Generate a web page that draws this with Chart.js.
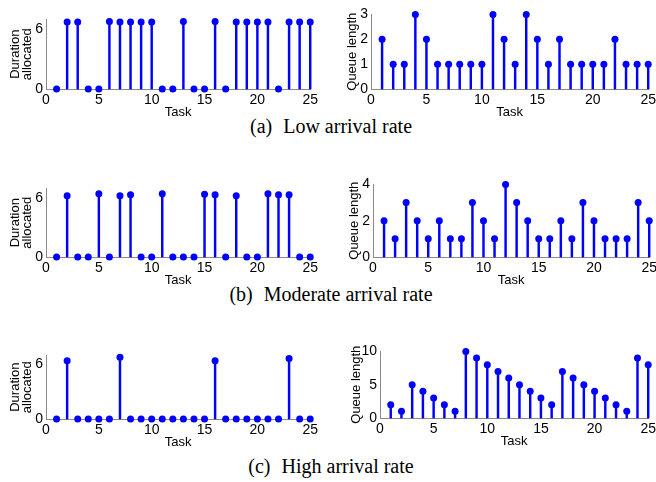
<!DOCTYPE html>
<html>
<head>
<meta charset="utf-8">
<script src="https://cdn.jsdelivr.net/npm/chart.js@4"></script>
<style>
body { margin:0; background:#fff; width:656px; height:482px; overflow:hidden; position:relative; }
canvas { position:absolute; }
.cap { position:absolute; left:0; width:662px; text-align:center; font-family:"Liberation Serif","Times New Roman",serif; font-size:20px; color:#000; white-space:nowrap; }
.cap span { margin-right:6px; }
</style>
</head>
<body>
<div class="cap" style="top:115px"><span>(a)</span> Low arrival rate</div>
<div class="cap" style="top:283px"><span>(b)</span> Moderate arrival rate</div>
<div class="cap" style="top:455px"><span>(c)</span> High arrival rate</div>
<script>
const tasks = [1,2,3,4,5,6,7,8,9,10,11,12,13,14,15,16,17,18,19,20,21,22,23,24,25];
const xTicks = [0, 5, 10, 15, 20, 25];

const lowDuration = [0,6.75,6.75,0,0,6.8,6.75,6.75,6.75,6.75,0,0,6.8,0,0,6.8,0,6.75,6.75,6.75,6.75,0,6.75,6.75,6.75];
const lowQueue = [2,1,1,3,2,1,1,1,1,1,3,2,1,3,2,1,2,1,1,1,1,2,1,1,1];
const modDuration = [0,6.25,0,0,6.45,0,6.25,6.35,0,0,6.45,0,0,0,6.4,6.35,0,6.25,0,0,6.45,6.35,6.35,0,0];
const modQueue = [2,1,3,2,1,2,1,1,3,2,1,4,3,2,1,1,2,1,3,2,1,1,1,3,2];
const highDuration = [0,6.4,0,0,0,0,6.8,0,0,0,0,0,0,0,0,6.4,0,0,0,0,0,0,6.65,0,0];
const highQueue = [2,1,5,4,3,2,1,10,9,8,7,6,5,4,3,2,7,6,5,4,3,2,1,9,8];

const durationTicks = [0, 6];
const lowQueueTicks = [0, 1, 2, 3];
const modQueueTicks = [0, 2, 4];
const highQueueTicks = [0, 5, 10];

const AXIS_W = 46, PAD_T = 8, PAD_R = 10, XAXIS_H = 33;
const sans = '"Liberation Sans", Arial, Helvetica, sans-serif';

function stemPlot(box, values, yMax, yTicks, yTitle, titlePad) {
    const canvas = document.createElement('canvas');
    const w = box.x1 - box.x0 + AXIS_W + PAD_R;
    const h = box.y1 - box.y0 + PAD_T + XAXIS_H;
    canvas.width = w;
    canvas.height = h;
    canvas.style.left = (box.x0 - AXIS_W) + 'px';
    canvas.style.top = (box.y0 - PAD_T) + 'px';
    document.body.appendChild(canvas);

    const pts = tasks.map((t, i) => ({ x: t, y: values[i] }));

    new Chart(canvas, {
        type: 'scatter',
        data: {
            datasets: [
                { type: 'scatter', data: pts, pointRadius: 3.5, pointHoverRadius: 3.5,
                  backgroundColor: '#0000ff', borderWidth: 0, clip: false },
                { type: 'bar', data: pts, barThickness: 1.8, backgroundColor: '#0000ff',
                  borderWidth: 0, clip: false }
            ]
        },
        options: {
            responsive: false,
            animation: false,
            events: [],
            layout: { padding: { top: PAD_T, right: PAD_R, left: 0, bottom: 0 } },
            plugins: { legend: { display: false }, tooltip: { enabled: false } },
            scales: {
                x: {
                    type: 'linear', min: 0, max: 25, offset: false,
                    grid: { display: false, drawTicks: false },
                    border: { color: '#8a8a8a', width: 1 },
                    afterBuildTicks: s => { s.ticks = xTicks.map(v => ({ value: v })); },
                    afterFit: s => { s.height = XAXIS_H; },
                    ticks: { color: '#000', padding: 3, maxRotation: 0, autoSkip: false,
                             font: { family: sans, size: 14 } },
                    title: { display: true, text: 'Task', color: '#000', padding: { top: 0, bottom: 3 },
                             font: { family: sans, size: 13, lineHeight: 0.95 } }
                },
                y: {
                    type: 'linear', min: 0, max: yMax,
                    grid: { display: false, drawTicks: false },
                    border: { color: '#8a8a8a', width: 1 },
                    afterBuildTicks: s => { s.ticks = yTicks.map(v => ({ value: v })); },
                    afterFit: s => { s.width = AXIS_W; },
                    ticks: { color: '#000', padding: 3, font: { family: sans, size: 14 } },
                    title: { display: true, text: yTitle, color: '#000', padding: { top: titlePad, bottom: 0 },
                             font: { family: sans, size: 13, lineHeight: 0.95 } }
                }
            }
        }
    });
}

stemPlot({ x0: 46, x1: 311, y0: 16, y1: 89 }, lowDuration, 7, durationTicks, ['Duration', 'allocated'], 9);
stemPlot({ x0: 371, x1: 649, y0: 11, y1: 89 }, lowQueue, 3, lowQueueTicks, 'Queue length', 21);
stemPlot({ x0: 46, x1: 311, y0: 185, y1: 257 }, modDuration, 7, durationTicks, ['Duration', 'allocated'], 9);
stemPlot({ x0: 373, x1: 650, y0: 181, y1: 257 }, modQueue, 4, modQueueTicks, 'Queue length', 21);
stemPlot({ x0: 46, x1: 311, y0: 352, y1: 419 }, highDuration, 7, durationTicks, ['Duration', 'allocated'], 9);
stemPlot({ x0: 380, x1: 649, y0: 348, y1: 418 }, highQueue, 10, highQueueTicks, 'Queue length', 16);
</script>
</body>
</html>
